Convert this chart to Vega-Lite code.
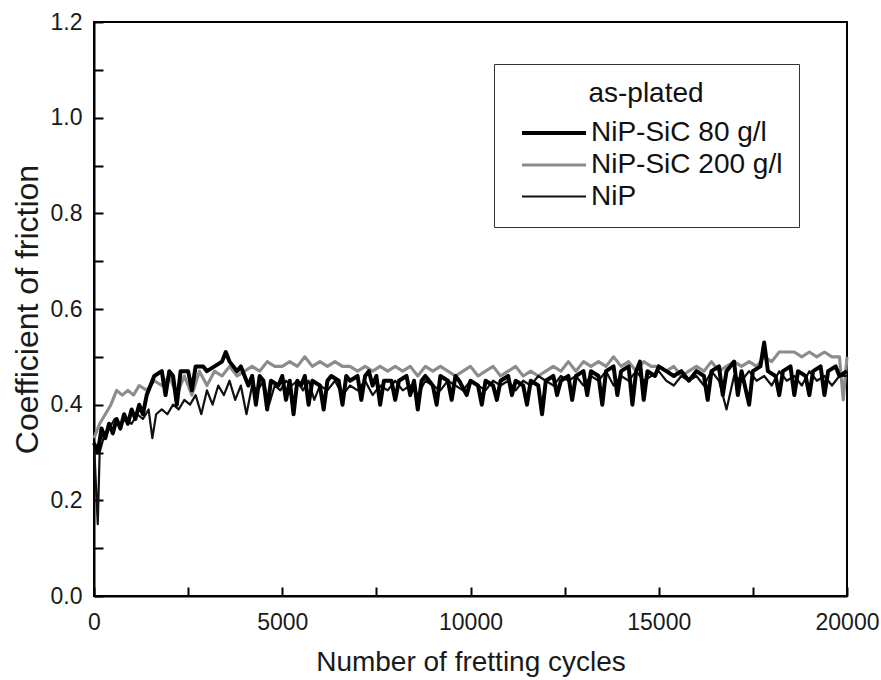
{
  "$schema": "https://vega.github.io/schema/vega-lite/v6.json",
  "width": 753,
  "height": 574,
  "autosize": {"type": "none"},
  "padding": {"left": 94, "top": 22, "right": 34, "bottom": 84},
  "background": "white",
  "config": {
    "font": "Liberation Sans",
    "view": {"stroke": "black", "strokeWidth": 2},
    "axis": {"domainColor": "black", "domainWidth": 2, "tickColor": "black", "tickWidth": 2, "grid": false, "labelColor": "#1a1a1a", "titleColor": "#1a1a1a", "labelFontSize": 23, "titleFontWeight": "normal"}
  },
  "datasets": {
    "s80": [[0,0.32],[100,0.30],[200,0.35],[300,0.33],[400,0.36],[500,0.34],[600,0.37],[700,0.35],[800,0.38],[900,0.36],[1000,0.39],[1100,0.37],[1200,0.40],[1300,0.38],[1400,0.42],[1500,0.44],[1600,0.46],[1800,0.47],[1900,0.42],[2000,0.47],[2100,0.46],[2200,0.40],[2300,0.47],[2500,0.47],[2600,0.43],[2700,0.48],[2900,0.48],[3000,0.47],[3200,0.48],[3400,0.49],[3500,0.51],[3600,0.49],[3800,0.47],[3900,0.48],[4000,0.46],[4100,0.44],[4200,0.46],[4300,0.40],[4400,0.46],[4500,0.45],[4600,0.39],[4700,0.45],[4900,0.44],[5000,0.46],[5100,0.41],[5200,0.45],[5300,0.38],[5400,0.45],[5500,0.44],[5600,0.46],[5700,0.40],[5800,0.45],[6000,0.44],[6100,0.39],[6200,0.45],[6300,0.46],[6500,0.45],[6600,0.40],[6700,0.46],[6800,0.45],[7000,0.46],[7100,0.41],[7200,0.46],[7300,0.47],[7400,0.44],[7500,0.46],[7600,0.40],[7700,0.45],[7900,0.45],[8000,0.41],[8100,0.45],[8300,0.46],[8400,0.42],[8500,0.45],[8600,0.39],[8700,0.45],[8800,0.46],[9000,0.44],[9100,0.40],[9200,0.46],[9400,0.45],[9500,0.41],[9600,0.46],[9700,0.45],[9900,0.42],[10000,0.45],[10200,0.44],[10300,0.40],[10400,0.45],[10600,0.44],[10700,0.41],[10800,0.45],[11000,0.46],[11100,0.42],[11200,0.45],[11400,0.44],[11500,0.40],[11600,0.45],[11800,0.44],[11900,0.38],[12000,0.45],[12200,0.46],[12300,0.42],[12400,0.45],[12600,0.46],[12700,0.41],[12800,0.46],[13000,0.47],[13100,0.42],[13200,0.47],[13400,0.46],[13500,0.40],[13600,0.47],[13800,0.48],[13900,0.42],[14000,0.47],[14200,0.48],[14300,0.40],[14400,0.47],[14500,0.49],[14600,0.41],[14700,0.47],[14900,0.46],[15000,0.48],[15200,0.47],[15400,0.46],[15600,0.47],[15800,0.45],[16000,0.47],[16200,0.46],[16300,0.41],[16400,0.47],[16600,0.48],[16700,0.42],[16800,0.47],[17000,0.49],[17100,0.42],[17200,0.47],[17400,0.40],[17500,0.47],[17700,0.48],[17800,0.53],[17900,0.47],[18100,0.46],[18200,0.42],[18300,0.47],[18500,0.48],[18600,0.42],[18700,0.47],[18900,0.46],[19000,0.42],[19100,0.47],[19300,0.48],[19400,0.42],[19500,0.47],[19700,0.48],[19800,0.46],[20000,0.47]],
    "s200": [[0,0.33],[150,0.36],[300,0.38],[450,0.40],[600,0.43],[750,0.42],[900,0.43],[1050,0.42],[1200,0.44],[1400,0.43],[1600,0.45],[1800,0.44],[2000,0.46],[2200,0.42],[2400,0.46],[2600,0.42],[2800,0.47],[3000,0.44],[3200,0.47],[3400,0.46],[3600,0.48],[3800,0.46],[4000,0.47],[4200,0.48],[4400,0.47],[4600,0.49],[4800,0.48],[5000,0.48],[5200,0.49],[5400,0.48],[5600,0.50],[5800,0.48],[6000,0.49],[6200,0.48],[6400,0.49],[6600,0.48],[6800,0.48],[7000,0.47],[7200,0.48],[7400,0.47],[7600,0.48],[7800,0.47],[8000,0.48],[8200,0.47],[8400,0.48],[8600,0.46],[8800,0.48],[9000,0.47],[9200,0.48],[9400,0.47],[9600,0.46],[9800,0.47],[10000,0.48],[10200,0.46],[10400,0.47],[10600,0.48],[10800,0.46],[11000,0.47],[11200,0.48],[11400,0.46],[11600,0.47],[11800,0.46],[12000,0.47],[12200,0.48],[12400,0.47],[12600,0.49],[12800,0.47],[13000,0.49],[13200,0.48],[13400,0.49],[13600,0.48],[13800,0.50],[14000,0.48],[14200,0.49],[14400,0.47],[14600,0.49],[14800,0.48],[15000,0.48],[15200,0.47],[15400,0.48],[15600,0.46],[15800,0.47],[16000,0.48],[16200,0.47],[16400,0.49],[16600,0.47],[16800,0.48],[17000,0.49],[17200,0.48],[17400,0.49],[17600,0.48],[17800,0.50],[18000,0.49],[18200,0.51],[18400,0.51],[18600,0.51],[18800,0.50],[19000,0.51],[19200,0.50],[19400,0.51],[19600,0.50],[19800,0.50],[19900,0.41],[20000,0.50]],
    "snip": [[0,0.32],[100,0.15],[150,0.30],[250,0.33],[400,0.35],[550,0.37],[700,0.36],[850,0.37],[1000,0.36],[1150,0.38],[1300,0.37],[1450,0.39],[1550,0.33],[1650,0.38],[1800,0.39],[1950,0.38],[2100,0.40],[2250,0.39],[2400,0.41],[2550,0.40],[2700,0.42],[2850,0.38],[3000,0.43],[3150,0.40],[3300,0.44],[3450,0.42],[3600,0.45],[3750,0.41],[3900,0.44],[4050,0.38],[4200,0.44],[4350,0.43],[4500,0.45],[4650,0.40],[4800,0.44],[4950,0.43],[5100,0.45],[5250,0.44],[5400,0.45],[5550,0.43],[5700,0.45],[5850,0.41],[6000,0.44],[6200,0.43],[6400,0.45],[6600,0.42],[6800,0.44],[7000,0.43],[7200,0.45],[7400,0.42],[7600,0.44],[7800,0.43],[8000,0.45],[8200,0.43],[8400,0.44],[8600,0.42],[8800,0.45],[9000,0.44],[9200,0.43],[9400,0.45],[9600,0.44],[9800,0.43],[10000,0.45],[10200,0.44],[10400,0.43],[10600,0.45],[10800,0.44],[11000,0.45],[11200,0.43],[11400,0.45],[11600,0.44],[11800,0.46],[12000,0.45],[12200,0.44],[12400,0.46],[12600,0.45],[12800,0.46],[13000,0.44],[13200,0.46],[13400,0.45],[13600,0.47],[13800,0.44],[14000,0.46],[14200,0.45],[14400,0.47],[14600,0.45],[14800,0.46],[15000,0.47],[15200,0.45],[15400,0.44],[15600,0.46],[15800,0.45],[16000,0.46],[16200,0.44],[16400,0.47],[16600,0.45],[16800,0.39],[17000,0.46],[17200,0.45],[17400,0.47],[17600,0.45],[17800,0.46],[18000,0.44],[18200,0.47],[18400,0.45],[18600,0.46],[18800,0.44],[19000,0.47],[19200,0.45],[19400,0.46],[19600,0.44],[19800,0.46],[20000,0.46]]
  },
  "data": {"values": []},
  "layer": [
    {
      "data": {"name": "s200"},
      "transform": [{"calculate": "datum[0]", "as": "cycles"}, {"calculate": "datum[1]", "as": "cof"}, {"calculate": "'NiP-SiC 200 g/l'", "as": "series"}],
      "mark": {"type": "line", "strokeJoin": "round"},
      "encoding": {
        "x": {"field": "cycles", "type": "quantitative"},
        "y": {"field": "cof", "type": "quantitative"},
        "color": {"field": "series", "type": "nominal"},
        "strokeWidth": {"field": "series", "type": "nominal"}
      }
    },
    {
      "data": {"name": "snip"},
      "transform": [{"calculate": "datum[0]", "as": "cycles"}, {"calculate": "datum[1]", "as": "cof"}, {"calculate": "'NiP'", "as": "series"}],
      "mark": {"type": "line", "strokeJoin": "round"},
      "encoding": {
        "x": {"field": "cycles", "type": "quantitative"},
        "y": {"field": "cof", "type": "quantitative"},
        "color": {"field": "series", "type": "nominal"},
        "strokeWidth": {"field": "series", "type": "nominal"}
      }
    },
    {
      "data": {"name": "s80"},
      "transform": [{"calculate": "datum[0]", "as": "cycles"}, {"calculate": "datum[1]", "as": "cof"}, {"calculate": "'NiP-SiC 80 g/l'", "as": "series"}],
      "mark": {"type": "line", "strokeJoin": "round"},
      "encoding": {
        "x": {"field": "cycles", "type": "quantitative", "title": "Number of fretting cycles",
          "scale": {"domain": [0, 20000], "nice": false},
          "axis": {"values": [0,2500,5000,7500,10000,12500,15000,17500,20000], "labelExpr": "datum.value % 5000 == 0 ? datum.label : ''", "format": "d", "tickSize": -9, "labelPadding": 24, "titlePadding": 14, "titleFontSize": 28, "labelFlush": false}},
        "y": {"field": "cof", "type": "quantitative", "title": "Coefficient of friction",
          "scale": {"domain": [0, 1.2], "nice": false},
          "axis": {"values": [0,0.1,0.2,0.3,0.4,0.5,0.6,0.7,0.8,0.9,1.0,1.1,1.2], "labelExpr": "round(datum.value*10) % 2 == 0 ? format(datum.value, '.1f') : ''", "tickSize": -9, "labelPadding": 21, "titlePadding": 6, "titleFontSize": 32}},
        "color": {"field": "series", "type": "nominal",
          "scale": {"domain": ["NiP-SiC 80 g/l", "NiP-SiC 200 g/l", "NiP"], "range": ["#000000", "#8c8c8c", "#111111"]},
          "legend": {"title": "as-plated", "orient": "none", "legendX": 400, "legendY": 42, "symbolType": "M-0.375,0H3.625", "symbolSize": 1024,
            "labelFontSize": 28, "titleFontSize": 28, "titleFontWeight": "normal", "titleAnchor": "middle", "titleAlign": "center",
            "strokeColor": "#333", "fillColor": "white", "padding": 16, "rowPadding": 0, "titlePadding": 7, "labelColor": "#111", "titleColor": "#111", "labelOffset": 45, "labelLimit": 400}},
        "strokeWidth": {"field": "series", "type": "nominal",
          "scale": {"domain": ["NiP-SiC 80 g/l", "NiP-SiC 200 g/l", "NiP"], "range": [4, 2.2, 2]}}
      }
    }
  ]
}
